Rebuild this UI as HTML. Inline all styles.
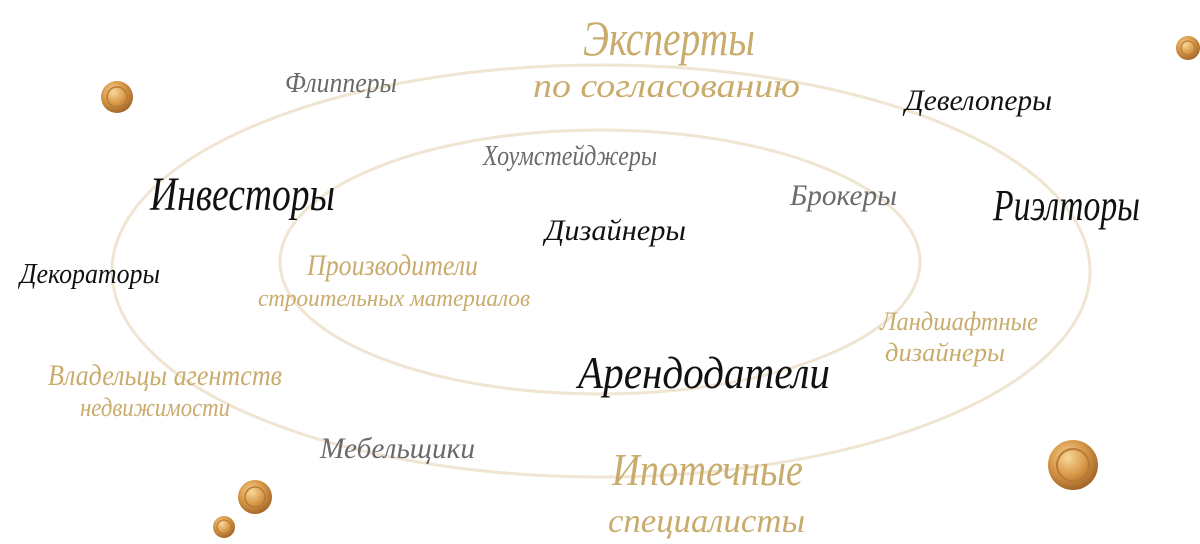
<!DOCTYPE html>
<html><head><meta charset="utf-8"><style>
html,body{margin:0;padding:0;background:#fff;}
svg{display:block;}
text{font-family:"Liberation Serif",serif;font-style:italic;}
.g{fill:#c9ab6c;}
.k{fill:#111;}
.s{fill:#6a6a6a;}
</style></head><body>
<svg width="1200" height="544" viewBox="0 0 1200 544" xmlns="http://www.w3.org/2000/svg">
<defs>
<radialGradient id="coin" cx="40%" cy="35%" r="70%">
<stop offset="0" stop-color="#f7d79a"/><stop offset="0.5" stop-color="#d99a4a"/><stop offset="1" stop-color="#9c5f22"/>
</radialGradient>
</defs>
<ellipse cx="601" cy="271" rx="489" ry="206" fill="none" stroke="#efe5d2" stroke-width="3"/>
<ellipse cx="600" cy="262" rx="320" ry="132" fill="none" stroke="#efe5d2" stroke-width="3"/>

<g>
<circle cx="117" cy="97" r="16" fill="url(#coin)"/><circle cx="117" cy="97" r="10" fill="none" stroke="#b87a35" stroke-width="1.5"/>
<circle cx="1188" cy="48" r="12" fill="url(#coin)"/><circle cx="1188" cy="48" r="7" fill="none" stroke="#b87a35" stroke-width="1.2"/>
<circle cx="1073" cy="465" r="25" fill="url(#coin)"/><circle cx="1073" cy="465" r="16" fill="none" stroke="#b87a35" stroke-width="2"/>
<circle cx="255" cy="497" r="17" fill="url(#coin)"/><circle cx="255" cy="497" r="10" fill="none" stroke="#b87a35" stroke-width="1.5"/>
<circle cx="224" cy="527" r="11" fill="url(#coin)"/><circle cx="224" cy="527" r="7" fill="none" stroke="#b87a35" stroke-width="1.2"/>
</g>

<text class="g" x="583" y="55" font-size="50" textLength="172" lengthAdjust="spacingAndGlyphs">Эксперты</text>
<text class="g" x="533" y="97" font-size="34" textLength="267" lengthAdjust="spacingAndGlyphs">по согласованию</text>
<text class="s" x="285" y="92" font-size="28" textLength="112" lengthAdjust="spacingAndGlyphs">Флипперы</text>
<text class="k" x="905" y="110" font-size="30" textLength="147" lengthAdjust="spacingAndGlyphs">Девелоперы</text>
<text class="s" x="483" y="165" font-size="28" textLength="174" lengthAdjust="spacingAndGlyphs">Хоумстейджеры</text>
<text class="k" x="150" y="210" font-size="48" textLength="185" lengthAdjust="spacingAndGlyphs">Инвесторы</text>
<text class="s" x="790" y="205" font-size="30" textLength="107" lengthAdjust="spacingAndGlyphs">Брокеры</text>
<text class="k" x="993" y="220" font-size="44" textLength="147" lengthAdjust="spacingAndGlyphs">Риэлторы</text>
<text class="k" x="545" y="240" font-size="30" textLength="141" lengthAdjust="spacingAndGlyphs">Дизайнеры</text>
<text class="g" x="307" y="275" font-size="30" textLength="171" lengthAdjust="spacingAndGlyphs">Производители</text>
<text class="g" x="258" y="306" font-size="24" textLength="272" lengthAdjust="spacingAndGlyphs">строительных материалов</text>
<text class="k" x="20" y="283" font-size="28" textLength="140" lengthAdjust="spacingAndGlyphs">Декораторы</text>
<text class="g" x="880" y="330" font-size="26" textLength="158" lengthAdjust="spacingAndGlyphs">Ландшафтные</text>
<text class="g" x="885" y="361" font-size="26" textLength="120" lengthAdjust="spacingAndGlyphs">дизайнеры</text>
<text class="k" x="578" y="388" font-size="46" textLength="252" lengthAdjust="spacingAndGlyphs">Арендодатели</text>
<text class="g" x="48" y="385" font-size="30" textLength="234" lengthAdjust="spacingAndGlyphs">Владельцы агентств</text>
<text class="g" x="80" y="416" font-size="26" textLength="150" lengthAdjust="spacingAndGlyphs">недвижимости</text>
<text class="s" x="320" y="458" font-size="30" textLength="155" lengthAdjust="spacingAndGlyphs">Мебельщики</text>
<text class="g" x="612" y="485" font-size="46" textLength="191" lengthAdjust="spacingAndGlyphs">Ипотечные</text>
<text class="g" x="608" y="532" font-size="34" textLength="197" lengthAdjust="spacingAndGlyphs">специалисты</text>
</svg>
</body></html>
